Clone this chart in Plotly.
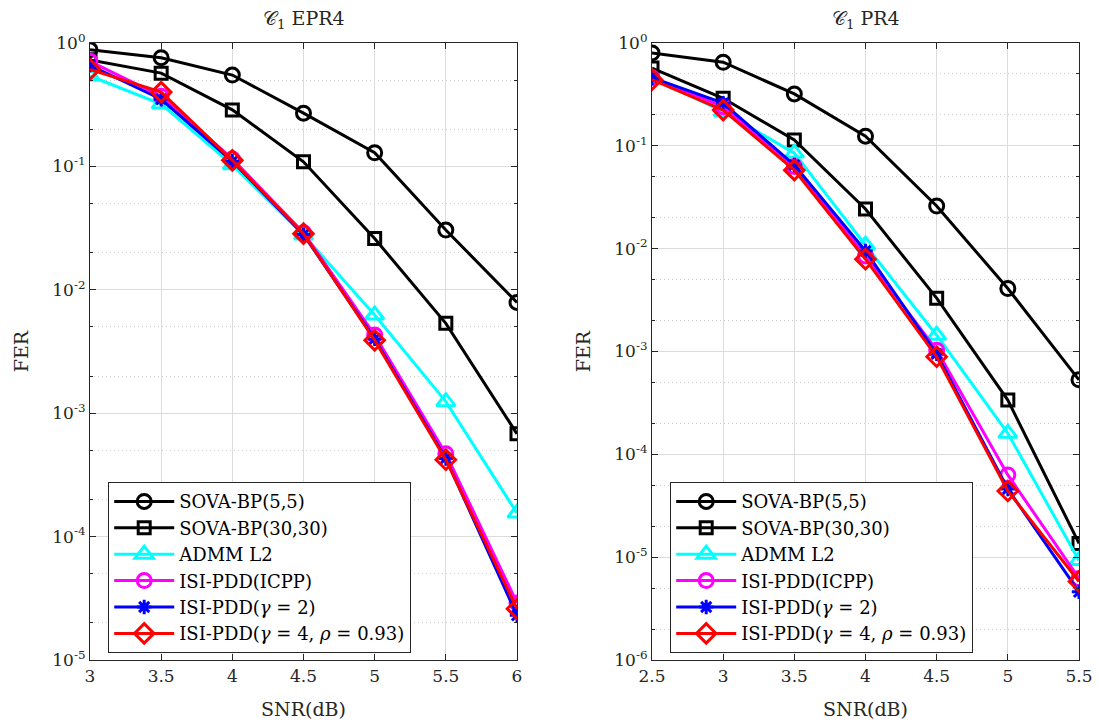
import plotly.graph_objects as go

# ---------------- data ----------------
snr_epr4 = [3, 3.5, 4, 4.5, 5, 5.5, 6]
epr4_sova55 = [0.88, 0.76, 0.55, 0.27, 0.129, 0.0305, 0.0079]
epr4_sova3030 = [0.73, 0.57, 0.287, 0.109, 0.026, 0.00535, 6.8e-4]
epr4_admm = [0.54, 0.32, 0.103, 0.0278, 0.00625, 0.00124, 1.55e-4]
epr4_icpp = [0.71, 0.37, 0.115, 0.029, 0.0043, 4.7e-4, 2.9e-5]
epr4_g2 = [0.66, 0.35, 0.11, 0.028, 0.0040, 4.3e-4, 2.3e-5]
epr4_g4 = [0.61, 0.40, 0.112, 0.0285, 0.0039, 4.2e-4, 2.6e-5]

snr_pr4 = [2.5, 3, 3.5, 4, 4.5, 5, 5.5]
pr4_sova55 = [0.80, 0.65, 0.32, 0.124, 0.026, 0.0041, 5.3e-4]
pr4_sova3030 = [0.57, 0.29, 0.114, 0.0243, 0.0033, 3.37e-4, 1.36e-5]
pr4_admm = [0.46, 0.215, 0.085, 0.0108, 0.00144, 1.6e-4, 9.3e-6]
pr4_icpp = [0.46, 0.24, 0.063, 0.0085, 0.00103, 6.3e-5, 6.2e-6]
pr4_g2 = [0.46, 0.26, 0.065, 0.0095, 9.5e-4, 4.6e-5, 4.6e-6]
pr4_g4 = [0.44, 0.223, 0.058, 0.0079, 8.9e-4, 4.4e-5, 5.8e-6]

epr4_yticks = [1e-5, 1e-4, 1e-3, 1e-2, 1e-1, 1]
epr4_yticktext = ["10<sup>-5</sup>", "10<sup>-4</sup>", "10<sup>-3</sup>",
                  "10<sup>-2</sup>", "10<sup>-1</sup>", "10<sup>0</sup>"]
pr4_yticks = [1e-6, 1e-5, 1e-4, 1e-3, 1e-2, 1e-1, 1]
pr4_yticktext = ["10<sup>-6</sup>"] + epr4_yticktext

names = ["SOVA-BP(5,5)", "SOVA-BP(30,30)", "ADMM L2", "ISI-PDD(ICPP)",
         "ISI-PDD(<i>γ</i> = 2)", "ISI-PDD(<i>γ</i> = 4, <i>ρ</i> = 0.93)"]
colors = ["black", "black", "#00FFFF", "#FF00FF", "#0000FF", "#FF0000"]
symbols = ["circle-open", "square-open", "triangle-up-open", "circle-open",
           "asterisk-open", "diamond-open"]
msizes = [14, 12, 16, 14, 12, 15]

FONT = "DejaVu Serif"
TXT = "#262626"

fig = go.Figure()

def add_set(x, ys, xa, ya, legend):
    for ys_, nm, c, s, ms in zip(ys, names, colors, symbols, msizes):
        fig.add_trace(go.Scatter(
            x=x, y=ys_, name=nm, mode="lines+markers",
            line=dict(color=c, width=3),
            marker=dict(symbol=s, size=ms, color=c, line=dict(color=c, width=3)),
            xaxis=xa, yaxis=ya, legend=legend))

add_set(snr_epr4, [epr4_sova55, epr4_sova3030, epr4_admm, epr4_icpp, epr4_g2, epr4_g4],
        "x", "y", "legend")
add_set(snr_pr4, [pr4_sova55, pr4_sova3030, pr4_admm, pr4_icpp, pr4_g2, pr4_g4],
        "x2", "y2", "legend2")

W, H = 1099, 726
ytop = 1 - 43 / H
ybot = 1 - 660 / H

def axis_common():
    return dict(
        automargin=False,
        showline=True, linecolor=TXT, linewidth=1.2, mirror="allticks",
        ticks="inside", ticklen=6, tickcolor=TXT,
        showgrid=True, gridcolor="#DCDCDC", gridwidth=1,
        zeroline=False, tickfont=dict(family=FONT, size=17, color=TXT),
    )

def minor_y():
    return dict(ticks="inside", ticklen=3, tickcolor=TXT, showgrid=True,
                gridcolor="#CFCFCF", griddash="1px,3px", gridwidth=1)

title_font = dict(family=FONT, size=19, color=TXT)

legend_common = dict(xanchor="left", yanchor="top",
                     bgcolor="white", bordercolor=TXT, borderwidth=1.2,
                     font=dict(family=FONT, size=18, color="black"),
                     itemwidth=60, tracegroupgap=0)

fig.update_layout(
    width=W, height=H, margin=dict(l=0, r=0, t=0, b=0),
    font=dict(family=FONT, size=17, color=TXT),
    paper_bgcolor="white", plot_bgcolor="white", showlegend=True,
    xaxis=dict(domain=[90 / W, 517 / W], anchor="y", range=[3, 6],
               tickvals=snr_epr4, ticktext=["3", "3.5", "4", "4.5", "5", "5.5", "6"],
               title=dict(text="SNR(dB)", font=title_font, standoff=18), **axis_common()),
    yaxis=dict(domain=[ybot, ytop], anchor="x", type="log", range=[-5, 0],
               tickvals=epr4_yticks, ticktext=epr4_yticktext, minor=minor_y(),
               title=dict(text="FER", font=title_font, standoff=18), **axis_common()),
    xaxis2=dict(domain=[652 / W, 1079 / W], anchor="y2", range=[2.5, 5.5],
                tickvals=snr_pr4, ticktext=["2.5", "3", "3.5", "4", "4.5", "5", "5.5"],
                title=dict(text="SNR(dB)", font=title_font, standoff=18), **axis_common()),
    yaxis2=dict(domain=[ybot, ytop], anchor="x2", type="log", range=[-6, 0],
                tickvals=pr4_yticks, ticktext=pr4_yticktext, minor=minor_y(),
                title=dict(text="FER", font=title_font, standoff=18), **axis_common()),
    legend=dict(x=108 / W, y=1 - 482 / H, **legend_common),
    legend2=dict(x=670 / W, y=1 - 482 / H, **legend_common),
)

fig.add_annotation(text="𝒞<sub>1</sub> EPR4", x=(90 + 517) / 2 / W, y=1 - 5 / H,
                   xref="paper", yref="paper", xanchor="center", yanchor="top",
                   showarrow=False, font=title_font)
fig.add_annotation(text="𝒞<sub>1</sub> PR4", x=(652 + 1079) / 2 / W, y=1 - 5 / H,
                   xref="paper", yref="paper", xanchor="center", yanchor="top",
                   showarrow=False, font=title_font)

fig.write_html("out.html")
